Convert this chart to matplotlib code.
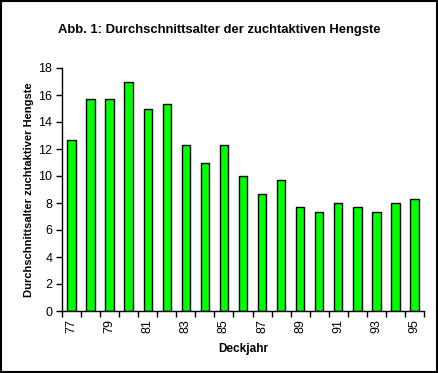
import matplotlib
matplotlib.use('Agg')
from matplotlib import pyplot as plt
from matplotlib.patches import Rectangle
import numpy as np

## Data
jahre = np.arange(77, 96)  # Deckjahr 77 ... 95
alter = [12.7, 15.7, 15.7, 17.0, 15.0, 15.3, 12.3, 11.0, 12.3, 10.0,
         8.7, 9.7, 7.7, 7.3, 8.0, 7.7, 7.3, 8.0, 8.3]
yticks = [0, 2, 4, 6, 8, 10, 12, 14, 16, 18]

plt.rcParams['font.family'] = ['Liberation Sans', 'DejaVu Sans']

fig = plt.figure(figsize=(4.39, 3.73), dpi=100)
ax = fig.add_axes([62/439, 1-311/373, (424-62)/439, (311-68)/373])

x = np.arange(len(jahre))
ax.bar(x, alter, width=0.44, color='#00ff00', edgecolor='black', linewidth=1.0)

ax.set_xlim(-0.5, len(jahre)-0.5)
ax.set_ylim(0, 18)
ax.set_yticks(yticks)
ax.tick_params(axis='y', direction='out', length=4, width=1, labelsize=9, pad=3)

# major ticks between categories, labels on every second year
ax.set_xticks(np.arange(-0.5, len(jahre), 1))
ax.set_xticklabels([])
ax.set_xticks(x[::2], minor=True)
ax.set_xticklabels([str(j) for j in jahre[::2]], minor=True, rotation=90)
ax.tick_params(axis='x', which='major', direction='out', length=4, width=1)
ax.tick_params(axis='x', which='minor', length=0, labelsize=9, pad=6)

for s in ['top', 'right']:
    ax.spines[s].set_visible(False)
for s in ['left', 'bottom']:
    ax.spines[s].set_linewidth(1.0)

ax.set_xlabel('Deckjahr', fontsize=8.5, fontweight='bold', labelpad=7)
ax.set_ylabel('Durchschnittsalter zuchtaktiver Hengste', fontsize=8, fontweight='bold', labelpad=3)
fig.text(0.5, 1-30/373, 'Abb. 1: Durchschnittsalter der zuchtaktiven Hengste',
         ha='center', va='center', fontsize=9.4, fontweight='bold')

# frame around the whole picture
fig.patches.append(Rectangle((0.002, 0.003), 0.994, 0.994, transform=fig.transFigure,
                             fill=False, edgecolor='black', linewidth=1.5))

fig.savefig('out.png', dpi=100)
